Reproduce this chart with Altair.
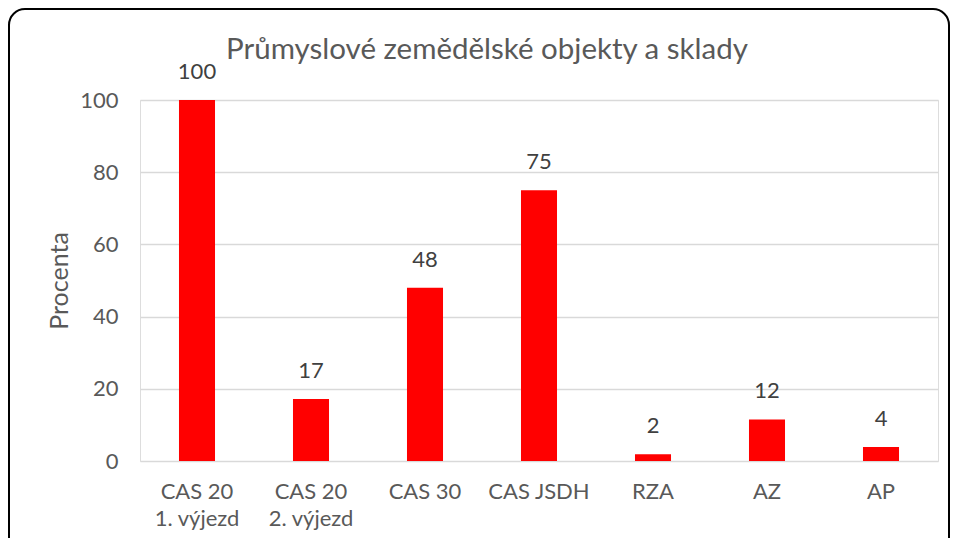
import altair as alt
import pandas as pd

line1 = ["CAS 20", "CAS 20", "CAS 30", "CAS JSDH", "RZA", "AZ", "AP"]
line2 = ["1. výjezd", "2. výjezd", "", "", "", "", ""]
values = [100, 17.2, 48, 75, 1.9, 11.5, 3.9]
labels = ["100", "17", "48", "75", "2", "12", "4"]
y_ticks = [0, 20, 40, 60, 80, 100]

cats = [a + ("|" + b if b else "") for a, b in zip(line1, line2)]
df = pd.DataFrame({"cat": cats, "value": values, "label": labels})

FONT = "Lato"
AX = "#595959"

x = alt.X("cat:N", sort=cats, title=None,
          scale=alt.Scale(paddingInner=0.684, paddingOuter=0.342),
          axis=alt.Axis(labelExpr="split(datum.label, '|')", labelAngle=0,
                        domain=False, ticks=False, labelPadding=20,
                        labelFont=FONT, labelFontSize=22, labelColor=AX,
                        labelLineHeight=27, labelBaseline="top"))
y = alt.Y("value:Q", title="Procenta",
          scale=alt.Scale(domain=[0, 100], nice=False),
          axis=alt.Axis(values=y_ticks, domain=False, ticks=False, labelPadding=22,
                        labelFont=FONT, labelFontSize=22, labelColor=AX,
                        titleFont=FONT, titleFontSize=25, titleColor=AX,
                        titleFontWeight="normal", titlePadding=7,
                        gridColor="#d9d9d9", gridWidth=1.5))

bars = alt.Chart(df).mark_bar(color="#ff0000").encode(x=x, y=y)
texts = alt.Chart(df).mark_text(baseline="bottom", dy=-16, font=FONT, fontSize=22,
                                color="#404040").encode(x=alt.X("cat:N", sort=cats), y="value:Q", text="label:N")
border = alt.Chart(pd.DataFrame({"a": [0]})).mark_rect(
    filled=False, stroke="black", strokeWidth=2, cornerRadius=16, clip=False
).encode(x=alt.value(-131), x2=alt.value(809), y=alt.value(-91), y2=alt.value(460))

chart = alt.layer(bars, texts, border).properties(
    width=798, height=361,
    title=alt.TitleParams("Průmyslové zemědělské objekty a sklady", font=FONT,
                          fontSize=29.5, fontWeight="normal", color=AX, dx=-52, offset=-57),
    autosize=alt.AutoSizeParams(type="none"),
    padding={"left": 132, "top": 92, "right": 12, "bottom": 77},
).configure_view(stroke=None).configure(background="white")

chart.save("out.html", embed_options={"renderer": "svg", "actions": False})
